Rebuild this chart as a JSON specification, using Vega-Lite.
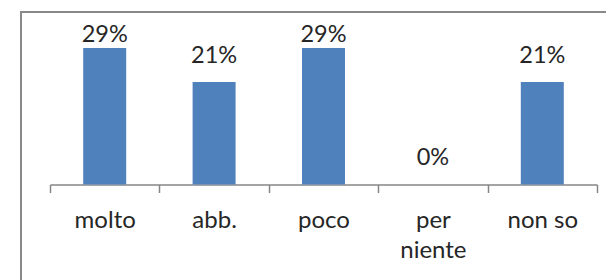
{
  "$schema": "https://vega.github.io/schema/vega-lite/v6.json",
  "autosize": "none",
  "width": 600,
  "height": 290,
  "padding": {"left": 21, "top": 12, "right": 0, "bottom": 0},
  "background": "white",
  "config": {
    "view": {"stroke": "#898989", "strokeWidth": 2},
    "font": "Lato"
  },
  "data": {
    "values": [
      {"cat": "molto", "value": 0.2857, "label": "29%"},
      {"cat": "abb.", "value": 0.2143, "label": "21%"},
      {"cat": "poco", "value": 0.2857, "label": "29%"},
      {"cat": "per niente", "value": 0, "label": "0%"},
      {"cat": "non so", "value": 0.2143, "label": "21%"}
    ]
  },
  "transform": [{"calculate": "min(datum.value, 0.259)", "as": "labelPos"}],
  "encoding": {
    "x": {
      "field": "cat",
      "type": "nominal",
      "sort": null,
      "scale": {"paddingInner": 0, "paddingOuter": 0, "range": [29, 576]},
      "axis": {
        "title": null,
        "offset": -117.5,
        "tickBand": "extent",
        "domainColor": "#868686",
        "tickColor": "#868686",
        "domainWidth": 1.5,
        "tickWidth": 1.5,
        "tickSize": 8,
        "labelAngle": 0,
        "labelFont": "Lato",
        "labelFontSize": 24,
        "labelColor": "#262626",
        "labelPadding": 16,
        "labelLineHeight": 30,
        "labelExpr": "datum.label == 'per niente' ? ['per', 'niente'] : datum.label"
      }
    }
  },
  "layer": [
    {
      "mark": {"type": "bar", "color": "#4F81BD", "width": {"band": 0.393}},
      "encoding": {
        "y": {
          "field": "value",
          "type": "quantitative",
          "scale": {"domain": [-0.2459, 0.361], "nice": false, "zero": false},
          "axis": null
        },
        "y2": {"datum": 0}
      }
    },
    {
      "mark": {"type": "text", "baseline": "alphabetic", "dy": -19, "fontSize": 23.5, "font": "Lato", "color": "#262626"},
      "encoding": {
        "y": {"field": "labelPos", "type": "quantitative"},
        "text": {"field": "label"}
      }
    }
  ]
}
